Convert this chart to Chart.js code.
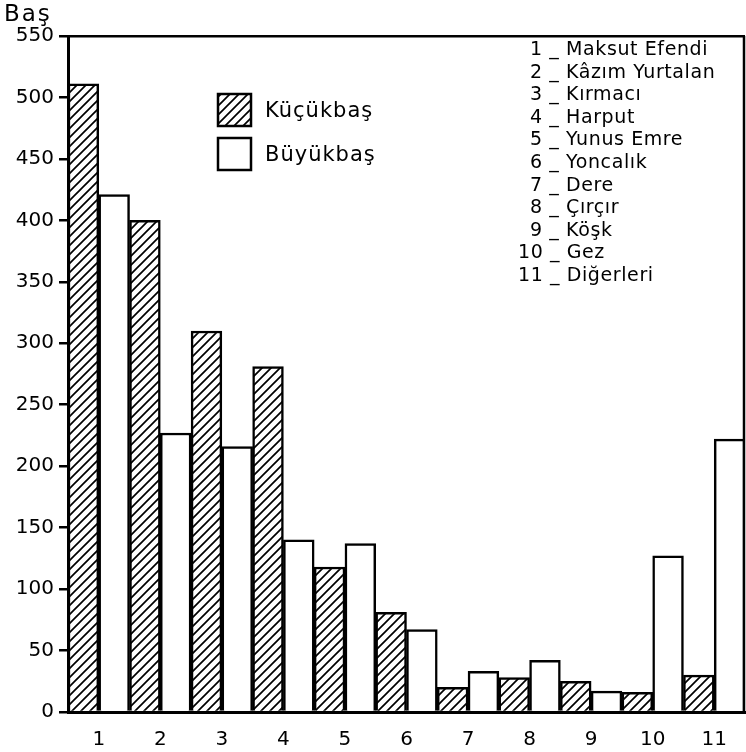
<!DOCTYPE html>
<html>
<head>
<meta charset="utf-8">
<script src="https://cdn.jsdelivr.net/npm/chart.js@4/dist/chart.umd.min.js"></script>
<style>
  html, body { margin: 0; padding: 0; background: #fff; }
  #wrap { width: 746px; height: 752px; position: relative; }
</style>
</head>
<body>
<div id="wrap"><canvas id="chart" width="746" height="752"></canvas></div>
<script>
// data
var categories = ['1', '2', '3', '4', '5', '6', '7', '8', '9', '10', '11'];
var places = ['Maksut Efendi', 'Kâzım Yurtalan', 'Kırmacı', 'Harput', 'Yunus Emre',
  'Yoncalık', 'Dere', 'Çırçır', 'Köşk', 'Gez', 'Diğerleri'];
var kucukbas = [511, 400, 310, 281, 118, 81, 20, 28, 25, 16, 30];
var buyukbas = [421, 227, 216, 140, 137, 67, 33, 42, 17, 127, 222];
var seriesNames = ['Küçükbaş', 'Büyükbaş'];
var yTicks = [0, 50, 100, 150, 200, 250, 300, 350, 400, 450, 500, 550];

var FONT = '"DejaVu Sans", sans-serif';

function hatch() {
  var n = 9;
  var c = document.createElement('canvas');
  c.width = n; c.height = n;
  var g = c.getContext('2d');
  g.fillStyle = '#fff';
  g.fillRect(0, 0, n, n);
  g.strokeStyle = '#000';
  g.lineWidth = 1.7;
  g.beginPath();
  g.moveTo(-2, n + 2); g.lineTo(n + 2, -2);
  g.moveTo(-2, 2); g.lineTo(2, -2);
  g.moveTo(n - 2, n + 2); g.lineTo(n + 2, n - 2);
  g.stroke();
  return g.createPattern(c, 'repeat');
}

var extras = {
  id: 'extras',
  afterDraw: function(chart) {
    var ctx = chart.ctx, a = chart.chartArea;
    ctx.save();
    // right frame line
    ctx.strokeStyle = '#000';
    ctx.lineWidth = 2.5;
    ctx.beginPath();
    ctx.moveTo(a.right - 1, a.top);
    ctx.lineTo(a.right - 1, a.bottom);
    ctx.stroke();

    // axis unit
    ctx.fillStyle = '#000';
    ctx.font = '23px ' + FONT;
    ctx.textBaseline = 'middle';
    ctx.textAlign = 'left';
    ctx.letterSpacing = '2px';
    ctx.fillText('Baş', 4, 15);

    // legend
    var ds = chart.data.datasets;
    ctx.font = '21px ' + FONT;
    ctx.letterSpacing = '1px';
    for (var i = 0; i < ds.length; i++) {
      var y = 94 + i * 44;
      ctx.fillStyle = ds[i].backgroundColor;
      ctx.fillRect(218, y, 33, 32);
      ctx.lineWidth = 2.5;
      ctx.strokeRect(218, y, 33, 32);
      ctx.fillStyle = '#000';
      ctx.fillText(ds[i].label, 265, y + 18);
    }

    // key of category numbers
    ctx.font = '19px ' + FONT;
    ctx.letterSpacing = '0.6px';
    for (var j = 0; j < categories.length; j++) {
      ctx.fillText(categories[j] + ' _ ' + places[j], j >= 9 ? 518 : 530, 50 + j * 22.6);
    }
    ctx.restore();
  }
};

new Chart(document.getElementById('chart'), {
  type: 'bar',
  data: {
    labels: categories,
    datasets: [{
      label: seriesNames[0],
      data: kucukbas,
      backgroundColor: hatch(),
      borderColor: '#000',
      borderWidth: 2.5
    }, {
      label: seriesNames[1],
      data: buyukbas,
      backgroundColor: '#fff',
      borderColor: '#000',
      borderWidth: 2.5
    }]
  },
  options: {
    responsive: false,
    animation: false,
    categoryPercentage: 1,
    barPercentage: 1,
    layout: { padding: { top: 36, right: 1, left: 0, bottom: 0 } },
    plugins: {
      legend: { display: false },
      tooltip: { enabled: false }
    },
    scales: {
      x: {
        grid: { display: false },
        border: { color: '#000', width: 3 },
        ticks: { color: '#000', font: { family: FONT, size: 20 }, padding: 8 },
        afterFit: function(s) { s.height = 40; }
      },
      y: {
        min: 0,
        max: 550,
        afterBuildTicks: function(s) {
          s.ticks = yTicks.map(function(v) { return { value: v }; });
        },
        grid: {
          color: function(c) { return c.tick && c.tick.value === 550 ? '#000' : 'rgba(0,0,0,0)'; },
          tickColor: '#000',
          tickLength: 9,
          lineWidth: 2.5
        },
        border: { color: '#000', width: 3 },
        ticks: { color: '#000', font: { family: FONT, size: 20 }, padding: 5 },
        afterFit: function(s) { s.width = 68; }
      }
    }
  },
  plugins: [extras]
});
</script>
</body>
</html>
